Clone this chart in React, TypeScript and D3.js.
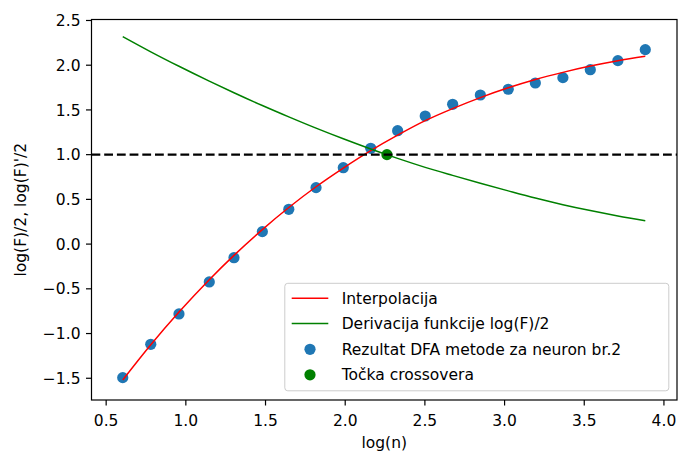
import React from "react";
import * as d3 from "d3";

// log(n) positions of the DFA results
const xs = [0.604, 0.78, 0.957, 1.147, 1.302, 1.48, 1.646, 1.817, 1.988, 2.16, 2.329, 2.502, 2.674, 2.848, 3.023, 3.193, 3.366, 3.538, 3.711, 3.883];
// DFA result points log(F)/2
const dfaValues = [-1.493, -1.12, -0.781, -0.423, -0.152, 0.139, 0.389, 0.631, 0.854, 1.071, 1.268, 1.432, 1.563, 1.667, 1.731, 1.801, 1.861, 1.95, 2.051, 2.174];
// interpolation curve (red)
const interpValues = [-1.52, -1.126, -0.76, -0.398, -0.126, 0.162, 0.409, 0.641, 0.85, 1.045, 1.218, 1.38, 1.515, 1.638, 1.747, 1.84, 1.92, 1.99, 2.05, 2.1];
// derivative curve (green)
const derivValues = [2.32, 2.15, 1.988, 1.822, 1.692, 1.549, 1.422, 1.296, 1.177, 1.063, 0.958, 0.858, 0.768, 0.68, 0.595, 0.515, 0.441, 0.375, 0.315, 0.262];
// crossover point
const crossX = [2.262];
const crossY = [1.0];

const xTicks = [0.5, 1.0, 1.5, 2.0, 2.5, 3.0, 3.5, 4.0];
const yTicks = [-1.5, -1.0, -0.5, 0.0, 0.5, 1.0, 1.5, 2.0, 2.5];

const W = 678, H = 452;
const L = 91.5, R = 677, T = 19.5, B = 400;
const FONT = "DejaVu Sans";
const FS = 15.5;

export default function App() {
  const x = d3.scaleLinear().domain([0.408, 4.082]).range([L, R]);
  const y = d3.scaleLinear().domain([-1.743, 2.511]).range([B, T]);
  const line = d3
    .line<[number, number]>()
    .x((d) => x(d[0]))
    .y((d) => y(d[1]))
    .curve(d3.curveMonotoneX);
  const redPath = line(xs.map((v, i) => [v, interpValues[i]]) as [number, number][]) || "";
  const greenPath = line(xs.map((v, i) => [v, derivValues[i]]) as [number, number][]) || "";

  const legendItems = [
    { label: "Interpolacija", kind: "line", color: "#ff0000" },
    { label: "Derivacija funkcije log(F)/2", kind: "line", color: "#008000" },
    { label: "Rezultat DFA metode za neuron br.2", kind: "dot", color: "#1f77b4" },
    { label: "Točka crossovera", kind: "dot", color: "#008000" },
  ];
  const legRows = [298.3, 323.5, 349.3, 374.8];

  return (
    <svg
      width={W}
      height={H}
      style={{ position: "absolute", left: 0, top: 0, background: "#fff" }}
      fontFamily={FONT}
    >
      <defs>
        <clipPath id="plot">
          <rect x={L} y={T} width={R - L} height={B - T} />
        </clipPath>
      </defs>
      <g clipPath="url(#plot)">
        {xs.map((v, i) => (
          <circle key={i} cx={x(v)} cy={y(dfaValues[i])} r={5.6} fill="#1f77b4" />
        ))}
        {crossX.map((v, i) => (
          <circle key={"c" + i} cx={x(v)} cy={y(crossY[i])} r={5.6} fill="#008000" />
        ))}
        <path d={redPath} fill="none" stroke="#ff0000" strokeWidth={1.5} />
        <path d={greenPath} fill="none" stroke="#008000" strokeWidth={1.5} />
        <line x1={L} x2={R} y1={y(1)} y2={y(1)} stroke="#000" strokeWidth={2.3} strokeDasharray="8.8,3.9" />
      </g>
      {/* axes frame */}
      <rect x={L} y={T} width={R - L} height={B - T} fill="none" stroke="#000" strokeWidth={1.2} />
      {xTicks.map((t) => (
        <g key={"x" + t}>
          <line x1={x(t)} x2={x(t)} y1={B} y2={B + 5.5} stroke="#000" strokeWidth={1.2} />
          <text x={x(t)} y={426} textAnchor="middle" fontSize={FS} fill="#000">
            {t.toFixed(1)}
          </text>
        </g>
      ))}
      {yTicks.map((t) => (
        <g key={"y" + t}>
          <line x1={L - 5.5} x2={L} y1={y(t)} y2={y(t)} stroke="#000" strokeWidth={1.2} />
          <text x={80.5} y={y(t) + 5.6} textAnchor="end" fontSize={FS} fill="#000">
            {t < 0 ? "\u2212" + Math.abs(t).toFixed(1) : t.toFixed(1)}
          </text>
        </g>
      ))}
      <text x={(L + R) / 2} y={448} textAnchor="middle" fontSize={FS} fill="#000">
        log(n)
      </text>
      <text
        transform={`translate(25.5,${(T + B) / 2}) rotate(-90)`}
        textAnchor="middle"
        fontSize={FS}
        fill="#000"
      >
        log(F)/2, log(F)'/2
      </text>
      {/* legend */}
      <rect x={284.8} y={283.3} width={384} height={107.5} rx={3} fill="#fff" fillOpacity={0.8} stroke="#cccccc" strokeWidth={1} />
      {legendItems.map((it, i) => (
        <g key={it.label}>
          {it.kind === "line" ? (
            <line x1={291.7} x2={328.3} y1={legRows[i]} y2={legRows[i]} stroke={it.color} strokeWidth={1.5} />
          ) : (
            <circle cx={310} cy={legRows[i]} r={5.6} fill={it.color} />
          )}
          <text x={341.7} y={legRows[i] + 5.6} fontSize={FS} fill="#000">
            {it.label}
          </text>
        </g>
      ))}
    </svg>
  );
}
